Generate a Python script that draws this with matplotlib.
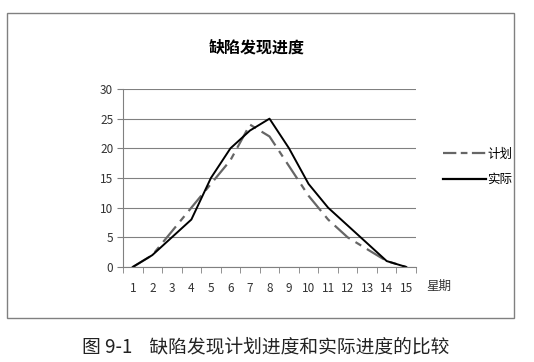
import matplotlib
matplotlib.use('Agg')
import matplotlib.pyplot as plt
from matplotlib.lines import Line2D
from matplotlib.patches import Rectangle

plt.rcParams['font.family'] = ['Noto Sans CJK SC', 'DejaVu Sans']

weeks = list(range(1, 16))
week_labels = ['1', '2', '3', '4', '5', '6', '7', '8', '9', '10', '11', '12', '13', '14', '15']
plan = [0, 2, 6, 10, 14, 18, 24, 22, 17, 12, 8, 5, 3, 1, 0]
actual = [0, 2, 5, 8, 15, 20, 23, 25, 20, 14, 10, 7, 4, 1, 0]
y_ticks = [0, 5, 10, 15, 20, 25, 30]


def main():
    fig = plt.figure(figsize=(5.34, 3.62), dpi=100)
    fig.patch.set_facecolor('white')

    # outer frame of the chart
    fig.patches.append(Rectangle((7 / 534, 1 - 318 / 362), 507 / 534, 305 / 362,
                                 transform=fig.transFigure, fill=False,
                                 edgecolor='#808080', linewidth=1.0))

    ax = fig.add_axes([123 / 534, 1 - 267 / 362, 293 / 534, 178 / 362])

    ax.plot(weeks, plan, color='#666666', linewidth=1.6,
            dashes=(9, 3, 3, 3), label='计划')
    ax.plot(weeks, actual, color='black', linewidth=1.4, label='实际')

    ax.set_xlim(0.5, 15.5)
    ax.set_ylim(0, 30)
    ax.set_yticks(y_ticks)
    ax.set_xticks(weeks)
    ax.set_xticklabels(week_labels)
    ax.set_xticks([w + 0.5 for w in range(0, 16)], minor=True)
    ax.tick_params(axis='x', which='major', length=0, pad=11, labelsize=8.5, colors='#333333')
    ax.tick_params(axis='x', which='minor', length=4, color='#808080')
    ax.tick_params(axis='y', length=4, color='#808080', labelsize=8.5, colors='#333333', pad=3)

    ax.grid(axis='y', color='#808080', linewidth=0.8)
    ax.set_axisbelow(True)
    for side in ['top', 'right']:
        ax.spines[side].set_visible(False)
    ax.spines['left'].set_color('#808080')
    ax.spines['bottom'].set_color('#808080')

    fig.text(257 / 534, 1 - 48 / 362, '缺陷发现进度', ha='center', va='center',
             fontsize=11.5, fontweight='bold')
    fig.text(426 / 534, 1 - 286 / 362, '星期', ha='left', va='center',
             fontsize=9, color='#333333')

    handles = [Line2D([], [], color='#666666', linewidth=1.6, dashes=(6, 2, 3, 2)),
               Line2D([], [], color='black', linewidth=1.6)]
    fig.legend(handles, ['计划', '实际'], loc='center left',
               bbox_to_anchor=(432 / 534, 1 - 167 / 362), frameon=False,
               fontsize=9, handlelength=3.4, handletextpad=0.1, labelspacing=1.0)

    fig.text(82 / 534, 1 - 347 / 362, '图 9-1    缺陷发现计划进度和实际进度的比较',
             ha='left', va='center', fontsize=13.5, color='#222222')

    fig.savefig('out.png', dpi=100)


if __name__ == '__main__':
    main()
